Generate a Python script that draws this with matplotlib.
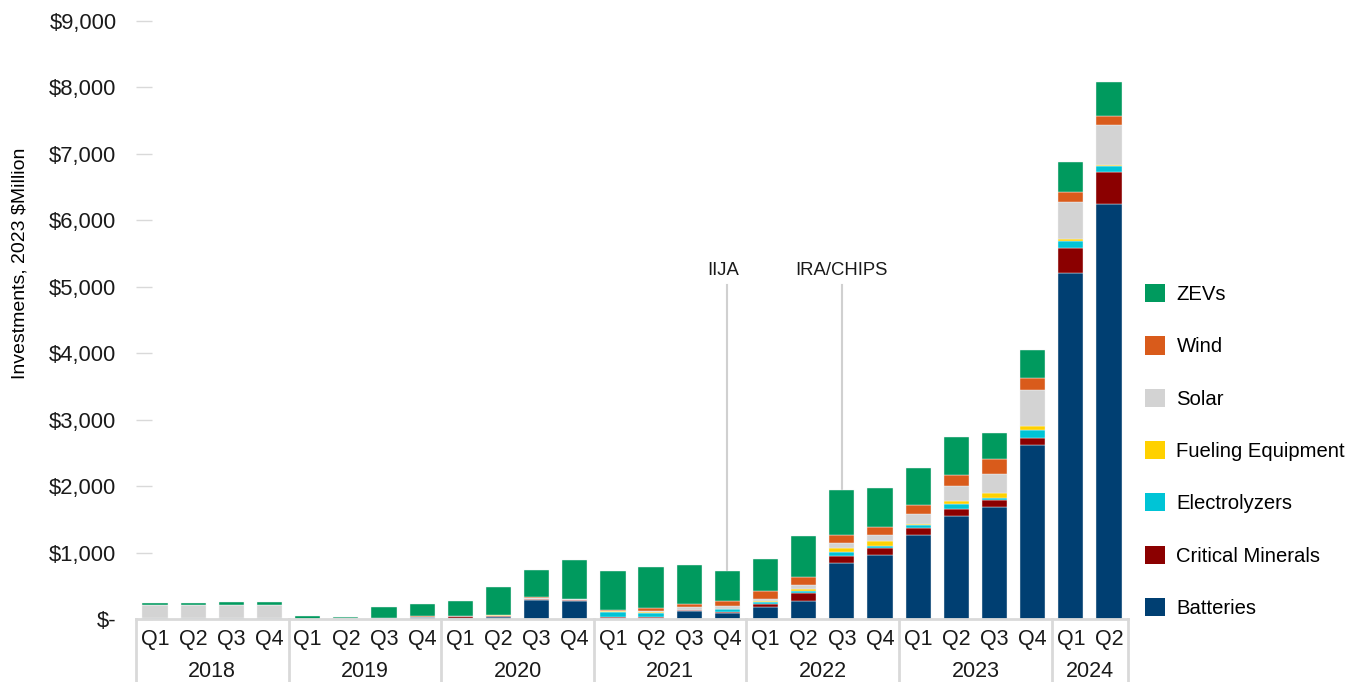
import numpy as np
import matplotlib
matplotlib.use("Agg")
from matplotlib import pyplot as plt
from matplotlib.patches import Patch

plt.rcParams['font.family'] = ['Liberation Sans', 'DejaVu Sans']

# quarterly investment, 2023 $Million
quarters = ["Q1", "Q2", "Q3", "Q4"] * 6 + ["Q1", "Q2"]
years = ["2018", "2019", "2020", "2021", "2022", "2023", "2024"]
quarters_per_year = [4, 4, 4, 4, 4, 4, 2]

batteries = [10, 10, 10, 10, 0, 20, 20, 30, 20, 30, 280, 270, 10, 15, 115, 90,
             185, 271, 838, 958, 1260, 1545, 1681, 2614, 5203, 6241]
critical_minerals = [0, 0, 0, 0, 0, 0, 0, 5, 20, 20, 25, 20, 15, 15, 20, 20,
                     40, 115, 115, 110, 115, 115, 115, 115, 386, 487]
electrolyzers = [0, 0, 0, 0, 0, 0, 0, 0, 0, 0, 0, 0, 85, 60, 5, 40,
                 25, 40, 60, 35, 40, 75, 30, 115, 100, 90]
fueling = [0, 0, 0, 0, 0, 0, 0, 0, 5, 5, 0, 0, 5, 10, 0, 0,
           15, 30, 60, 70, 20, 40, 70, 65, 30, 20]
solar = [195, 200, 205, 200, 5, 0, 0, 0, 0, 0, 10, 8, 5, 15, 35, 45,
         30, 55, 70, 85, 150, 221, 286, 537, 557, 592]
wind = [0, 0, 0, 0, 0, 0, 0, 15, 5, 10, 10, 10, 10, 54, 50, 70,
        125, 120, 120, 125, 125, 170, 221, 181, 145, 145]
zevs = [35, 30, 40, 40, 40, 10, 160, 180, 220, 410, 410, 587, 595, 617, 587, 462,
        482, 617, 677, 592, 562, 577, 396, 421, 462, 502]

series = [
    ("Batteries", batteries, "#003f72"),
    ("Critical Minerals", critical_minerals, "#8b0000"),
    ("Electrolyzers", electrolyzers, "#00c4d6"),
    ("Fueling Equipment", fueling, "#ffd100"),
    ("Solar", solar, "#d3d3d3"),
    ("Wind", wind, "#d95b1b"),
    ("ZEVs", zevs, "#009a5e"),
]

# policy markers: (label, bar index)
events = [("IIJA", 15), ("IRA/CHIPS", 18)]
event_label_y = 5250
event_line_top = 5030

fig = plt.figure(figsize=(13.63, 6.82), dpi=100)
ax = fig.add_axes([136 / 1363, 63 / 682, 992 / 1363, 598 / 682])

x = np.arange(len(quarters))
bottom = np.zeros(len(quarters))
for name, vals, col in series:
    ax.bar(x, vals, 0.66, bottom=bottom, color=col, edgecolor="#f4f4f4",
           linewidth=0.3, label=name)
    bottom += np.array(vals)

# annotation lines for legislation
for lab, i in events:
    ax.plot([i, i], [bottom[i], event_line_top], color="#d0d0d0", lw=1.5, zorder=0)
    ax.text(i - 0.1 if lab == "IIJA" else i, event_label_y, lab, ha="center",
            va="center", fontsize=13.3, color="#1a1a1a")

ax.set_xlim(-0.5, len(quarters) - 0.5)
ax.set_ylim(0, 9000)
ax.set_yticks(np.arange(0, 9001, 1000))
ax.set_yticklabels(["$-"] + ["${:,}".format(v) for v in range(1000, 9001, 1000)])
ax.tick_params(axis="y", direction="in", length=11.5, width=1, color="#d9d9d9",
               pad=14, labelsize=15.8, labelcolor="#1a1a1a")
ax.set_ylabel("Investments, 2023 $Million", fontsize=14,
              family=["Liberation Sans Narrow", "Liberation Sans"])
ax.yaxis.set_label_coords(-0.108, 0.594)

for s in ["top", "right", "left"]:
    ax.spines[s].set_visible(False)
ax.spines["bottom"].set_color("#d9d9d9")
ax.spines["bottom"].set_linewidth(2)

# two-level category axis
ax.set_xticks(x)
ax.set_xticklabels(quarters, fontsize=15.5, color="#1a1a1a")
ax.tick_params(axis="x", length=0, pad=7)
trans = ax.get_xaxis_transform()
edge = -0.5
seps = [edge]
for yr, n in zip(years, quarters_per_year):
    ax.text(edge + n / 2, -0.087, yr, transform=trans, ha="center", va="center",
            fontsize=15.5, color="#1a1a1a")
    edge += n
    seps.append(edge)
for s in seps:
    ax.plot([s, s], [0, -0.106], transform=trans, color="#d9d9d9", lw=2,
            clip_on=False)

handles = [Patch(facecolor=c, label=n) for n, v, c in series][::-1]
fig.legend(handles=handles, loc="center left", bbox_to_anchor=(1145 / 1363, 0.3387),
           frameon=False, fontsize=14.6, handlelength=1.0, handleheight=1.0,
           handletextpad=0.55, labelspacing=1.59, borderpad=0, borderaxespad=0)

fig.savefig("out.png", dpi=100)
